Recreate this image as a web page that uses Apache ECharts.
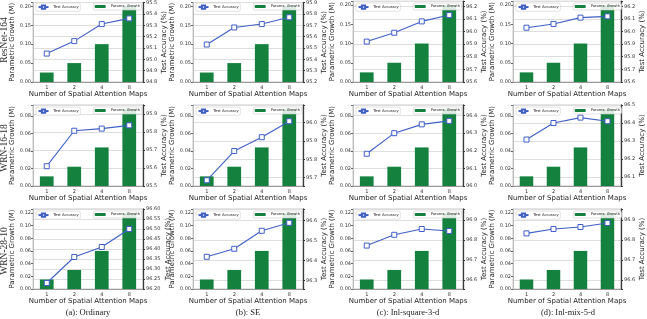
<!DOCTYPE html>
<html><head><meta charset="utf-8">
<script src="https://cdn.jsdelivr.net/npm/echarts@6/dist/echarts.min.js"></script>
<style>html,body{margin:0;padding:0;background:#fff}#c{width:647px;height:319px}</style>
</head><body><div id="c"></div>
<script>
const categories = ['1', '2', '4', '8'];
const rowNames = ['ResNet-164', 'WRN-16-18', 'WRN-28-10'];
const captions = ['(a): Ordinary', '(b): SE', '(c): Inl-square-3-d', '(d): Inl-mix-5-d'];

// Parametric growth (M), one per backbone row
const paramsResNet164 = [0.025, 0.05, 0.1, 0.2];
const paramsWRN1618 = [0.011, 0.022, 0.044, 0.088];
const paramsWRN2810 = [0.015, 0.03, 0.06, 0.12];

// Test accuracy (%)
const accResNet164Ordinary = [95.05, 95.16, 95.31, 95.36];
const accResNet164SE = [95.53, 95.68, 95.71, 95.77];
const accResNet164Square = [95.92, 95.99, 96.08, 96.13];
const accResNet164Mix = [96.03, 96.06, 96.11, 96.12];
const accWRN1618Ordinary = [95.61, 95.807, 95.819, 95.837];
const accWRN1618SE = [95.686, 95.845, 95.92, 96.007];
const accWRN1618Square = [96.183, 96.30, 96.35, 96.37];
const accWRN1618Mix = [96.308, 96.40, 96.43, 96.41];
const accWRN2810Ordinary = [96.23, 96.36, 96.41, 96.50];
const accWRN2810SE = [96.418, 96.458, 96.548, 96.588];
const accWRN2810Square = [96.773, 96.827, 96.856, 96.846];
const accWRN2810Mix = [96.834, 96.856, 96.866, 96.886];

const paramsRows = [paramsResNet164, paramsWRN1618, paramsWRN2810];
const accPanels = [
  accResNet164Ordinary, accResNet164SE, accResNet164Square, accResNet164Mix,
  accWRN1618Ordinary, accWRN1618SE, accWRN1618Square, accWRN1618Mix,
  accWRN2810Ordinary, accWRN2810SE, accWRN2810Square, accWRN2810Mix
];

// axis settings [min, max, interval, decimals]
const leftAxisCfg = [[0, 0.21, 0.05, 2], [0, 0.0924, 0.02, 2], [0, 0.126, 0.02, 2]];
const rightAxisCfg = [
  [94.8, 95.5, 0.1, 1], [95.2, 95.9, 0.1, 1], [95.6, 96.24, 0.1, 1], [95.6, 96.24, 0.1, 1],
  [95.5, 95.95, 0.1, 1], [95.655, 96.095, 0.1, 1], [96.0, 96.46, 0.1, 1], [96.05, 96.5, 0.1, 1],
  [96.2, 96.6, 0.05, 2], [96.257, 96.657, 0.1, 1], [96.556, 96.956, 0.1, 1], [96.556, 96.956, 0.1, 1]
];

const colLeft = [33, 193, 353, 513];
const rowTop = [1, 105, 209];
const rowH = [81, 81, 80];
const W = 110;
const GREEN = '#15813f';
const BLUE = '#3e5fc6';
const FONT = 'DejaVu Sans';

function fmt(iv, dec) {
  return function (v) {
    const q = v / iv;
    return Math.abs(q - Math.round(q)) < 1e-4 ? v.toFixed(dec) : '';
  };
}

const grid = [], xAxis = [], yAxis = [], series = [], legend = [], graphic = [];
for (let r = 0; r < 3; r++) {
  for (let c = 0; c < 4; c++) {
    const k = r * 4 + c;
    grid.push({left: colLeft[c], top: rowTop[r], width: W, height: rowH[r], show: true,
      borderColor: '#c8c8c8', borderWidth: 1, backgroundColor: 'transparent', containLabel: false});
    xAxis.push({gridIndex: k, type: 'category', data: categories, boundaryGap: true,
      axisLine: {lineStyle: {color: '#999', width: 1}},
      axisTick: {alignWithLabel: true, length: 2, lineStyle: {color: '#555'}},
      axisLabel: {fontSize: 5, margin: 3, color: '#333', fontFamily: FONT},
      name: 'Number of Spatial Attention Maps', nameLocation: 'middle', nameGap: 8.5,
      nameTextStyle: {fontSize: 7, color: '#222', fontFamily: FONT}});
    const L = leftAxisCfg[r];
    yAxis.push({gridIndex: k, type: 'value', position: 'left', min: L[0], max: L[1],
      minInterval: L[2], maxInterval: L[2], splitLine: {show: false},
      axisLine: {show: true, lineStyle: {color: '#bbb', width: 1}},
      axisTick: {show: true, length: 2, lineStyle: {color: '#666'}},
      axisLabel: {fontSize: 5, margin: 2, color: '#333', fontFamily: FONT, formatter: fmt(L[2], L[3]),
        showMinLabel: true, showMaxLabel: true},
      name: 'Parametric Growth (M)', nameLocation: 'middle', nameGap: 14, nameRotate: 90,
      nameTextStyle: {fontSize: 7, color: '#222', fontFamily: FONT}});
    const R = rightAxisCfg[k];
    yAxis.push({gridIndex: k, type: 'value', position: 'right', min: R[0], max: R[1],
      minInterval: R[2], maxInterval: R[2],
      splitLine: {show: true, lineStyle: {color: '#dedede', width: 1}},
      axisLine: {show: true, lineStyle: {color: '#3a3a3a', width: 1.3}},
      axisTick: {show: true, length: 2, lineStyle: {color: '#333'}},
      axisLabel: {fontSize: 5, margin: 3, color: '#333', fontFamily: FONT, formatter: fmt(R[2], R[3]),
        showMinLabel: true, showMaxLabel: true},
      name: 'Test Accuracy (%)', nameLocation: 'middle', nameGap: 15, nameRotate: 90,
      nameTextStyle: {fontSize: 7, color: '#222', fontFamily: FONT}});
    series.push({name: 'Params. Growth', type: 'bar', xAxisIndex: k, yAxisIndex: 2 * k,
      data: paramsRows[r], barWidth: '50%', itemStyle: {color: GREEN}, z: 2, silent: true});
    series.push({name: 'Test Accuracy', type: 'line', xAxisIndex: k, yAxisIndex: 2 * k + 1,
      data: accPanels[k], symbol: 'rect', symbolSize: 5, showSymbol: true,
      lineStyle: {color: BLUE, width: 1.1}, itemStyle: {color: '#fff', borderColor: BLUE, borderWidth: 1},
      z: 4, silent: true, animation: false});
    const common = {orient: 'horizontal', selectedMode: false, padding: [1.5, 1.5], itemGap: 0,
      itemTextGap: 1.5, backgroundColor: 'rgba(255,255,255,0.85)', borderColor: '#cfcfcf',
      borderWidth: 0.6, borderRadius: 1.5, textStyle: {fontSize: 3.7, color: '#222', fontFamily: FONT}, z: 10};
    legend.push(Object.assign({}, common, {data: ['Test Accuracy'], left: colLeft[c] + 3, top: rowTop[r] + 2,
      itemWidth: 10, itemHeight: 4}));
    legend.push(Object.assign({}, common, {data: ['Params. Growth'], right: 647 - (colLeft[c] + W) + 1.5,
      top: rowTop[r] + 2, itemWidth: 11, itemHeight: 3}));
  }
}
const rowCenters = [40, 148, 251];
rowNames.forEach((t, i) => graphic.push({type: 'text', x: 4.5, y: rowCenters[i], rotation: Math.PI / 2,
  style: {text: t, font: '9.5px "Liberation Serif"', fill: '#333', textAlign: 'center', textVerticalAlign: 'middle'}}));
captions.forEach((t, i) => graphic.push({type: 'text', x: colLeft[i] + W / 2, y: 313,
  style: {text: t, font: '8.5px "Liberation Serif"', fill: '#222', textAlign: 'center', textVerticalAlign: 'middle'}}));

const chart = echarts.init(document.getElementById('c'), null, {renderer: 'canvas', width: 647, height: 319});
chart.setOption({animation: false, grid, xAxis, yAxis, series, legend, graphic});
</script></body></html>
